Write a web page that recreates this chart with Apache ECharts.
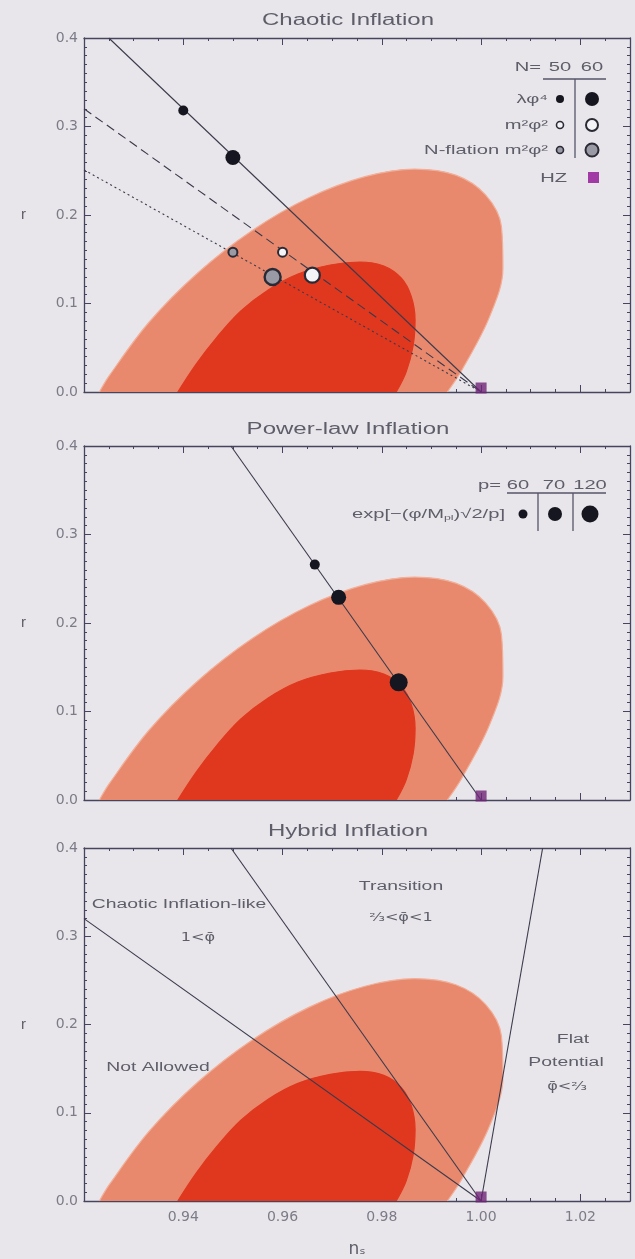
<!DOCTYPE html>
<html><head><meta charset="utf-8">
<script src="https://cdn.jsdelivr.net/npm/echarts@6/dist/echarts.min.js"></script>
<style>html,body{margin:0;padding:0;background:#e8e6ea}#c{width:635px;height:1259px}</style>
</head><body><div id="c"></div>
<script>
// ---------------- data ----------------
const panelTitles = ['Chaotic Inflation', 'Power-law Inflation', 'Hybrid Inflation'];
const yTickLabels = ['0.0', '0.1', '0.2', '0.3', '0.4'];
const xTickLabels = ['0.94', '0.96', '0.98', '1.00', '1.02'];
// 2-sigma (outer) and 1-sigma (inner) contours, [n_s, r], truncated at r = 0
const outerContour = [[0.9231,0.0000],[0.9252,0.0193],[0.9331,0.0788],[0.9429,0.1345],[0.9539,0.1825],[0.9654,0.2197],[0.9766,0.2433],[0.9866,0.2519],[0.9949,0.2450],[1.0009,0.2227],[1.0041,0.1869],[1.0044,0.1398],[1.0017,0.0849],[0.9962,0.0255],[0.9932,0.0000]];
const innerContour = [[0.9389,0.0000],[0.9426,0.0316],[0.9468,0.0621],[0.9516,0.0915],[0.9571,0.1153],[0.9631,0.1333],[0.9696,0.1435],[0.9756,0.1469],[0.9804,0.1424],[0.9839,0.1288],[0.9859,0.1085],[0.9867,0.0814],[0.9863,0.0520],[0.9849,0.0226],[0.9829,0.0000]];
// Chaotic inflation
const phi4Line = [[0.925,0.400],[1.000,0.000]];
const m2Line = [[0.920,0.320],[1.000,0.000]];
const nflationLine = [[0.920,0.251],[1.000,0.000]];
const phi4Points = [[0.940,0.318],[0.950,0.265]];       // N = 50, 60
const m2Points = [[0.960,0.158],[0.966,0.132]];
const nflationPoints = [[0.950,0.158],[0.958,0.130]];
const hzPoint = [[1.000,0.000]];
// Power-law inflation
const powerLawLine = [[0.9496,0.400],[1.000,0.000]];
const powerLawPoints = [[0.9665,0.266],[0.9713,0.229],[0.9834,0.133]]; // p = 60, 70, 120
// Hybrid inflation boundaries
const hybridLineA = [[0.920,0.320],[1.000,0.000]];
const hybridLineB = [[0.9496,0.400],[1.000,0.000]];
const hybridLineC = [[1.000,0.000],[1.0124,0.400]];

// ---------------- layout/style ----------------
const gridTops = [38, 446, 848];
const GH = 354, GL = 84, GW = 546;
const axisCol = '#46445e';
const lineCol = '#3a3a4c';
const textCol = '#5e5e6a';
const FONT = '"Liberation Sans", Arial, sans-serif';

function xAx(gi, pos) {
  const lab = pos === 'bottom' && gi === 2;
  return {
    type: 'value', gridIndex: gi, position: pos, min: 0.92, max: 1.03, interval: 0.02,
    axisLine: { show: true, onZero: false, lineStyle: { color: axisCol, width: 1.3 } },
    axisTick: { show: true, inside: true, length: 7, lineStyle: { color: axisCol } },
    minorTick: { show: true, splitNumber: 4, length: 3, lineStyle: { color: axisCol } },
    splitLine: { show: false },
    axisLabel: { show: lab, showMinLabel: false, showMaxLabel: false, margin: 9,
      formatter: v => { const s = v.toFixed(2); return xTickLabels.includes(s) ? s : ''; },
      color: '#7c7c88', fontSize: 14, fontFamily: 'DejaVu Sans' },
    name: lab ? 'nₛ' : '', nameLocation: 'middle', nameGap: 40,
    nameTextStyle: { fontSize: 17, color: textCol, fontFamily: 'DejaVu Sans' }
  };
}
function yAx(gi, pos) {
  const lab = pos === 'left';
  return {
    type: 'value', gridIndex: gi, position: pos, min: 0, max: 0.4, interval: 0.1,
    axisLine: { show: true, onZero: false, lineStyle: { color: axisCol, width: 1.3 } },
    axisTick: { show: true, inside: true, length: 7, lineStyle: { color: axisCol } },
    minorTick: { show: true, splitNumber: 10, length: 3, lineStyle: { color: axisCol } },
    splitLine: { show: false },
    axisLabel: { show: lab, margin: 6, formatter: v => yTickLabels[Math.round(v * 10)] || '',
      color: '#7c7c88', fontSize: 14, fontFamily: 'DejaVu Sans' },
    name: lab ? 'r' : '', nameLocation: 'middle', nameGap: 58, nameRotate: 0,
    nameTextStyle: { fontSize: 15, color: textCol, fontFamily: FONT }
  };
}

function contourSeries(points, fill, stroke, gi, z) {
  return {
    type: 'line', xAxisIndex: 2 * gi, yAxisIndex: 2 * gi, data: points, symbol: 'none', smooth: 0.35,
    clip: true, silent: true, z,
    lineStyle: { color: stroke, width: 1.2 },
    areaStyle: { color: fill, opacity: 1, origin: 'start' }
  };
}
function lineSeries(data, gi, type) {
  return { type: 'line', xAxisIndex: 2 * gi, yAxisIndex: 2 * gi, data, symbol: 'none', clip: true, z: 3,
    silent: true, lineStyle: { color: lineCol, width: 1.1, type: type || 'solid' } };
}
function dotSeries(pt, gi, size, fill, stroke, bw) {
  return { type: 'scatter', xAxisIndex: 2 * gi, yAxisIndex: 2 * gi, data: [pt], symbolSize: size, z: 5, silent: true,
    itemStyle: { color: fill, borderColor: stroke, borderWidth: bw || 0, opacity: 1 } };
}
function hzSeries(gi) {
  return { type: 'scatter', xAxisIndex: 2 * gi, yAxisIndex: 2 * gi, data: hzPoint, symbol: 'rect', symbolSize: 11,
    symbolOffset: [0, -4], z: 6, silent: true, itemStyle: { color: '#6e2477' } };
}

const series = [];
for (let g = 0; g < 3; g++) {
  series.push(contourSeries(outerContour, '#e8896d', '#f2ae98', g, 1));
  series.push(contourSeries(innerContour, '#e0381f', '#e0381f', g, 2));
}
series.push(lineSeries(phi4Line, 0), lineSeries(m2Line, 0, [9, 5]), lineSeries(nflationLine, 0, [2, 3]));
series.push(dotSeries(phi4Points[0], 0, 10, '#161620'), dotSeries(phi4Points[1], 0, 15, '#161620'));
series.push(dotSeries(m2Points[0], 0, 9, '#f4f4f6', '#2a2a36', 2), dotSeries(m2Points[1], 0, 15, '#f4f4f6', '#2a2a36', 2.2));
series.push(dotSeries(nflationPoints[0], 0, 9, '#9a9aa4', '#2a2a36', 2), dotSeries(nflationPoints[1], 0, 16, '#9a9aa4', '#2a2a36', 2.4));
series.push(hzSeries(0));
series.push(lineSeries(powerLawLine, 1));
series.push(dotSeries(powerLawPoints[0], 1, 10, '#161620'), dotSeries(powerLawPoints[1], 1, 15, '#161620'), dotSeries(powerLawPoints[2], 1, 18, '#161620'));
series.push(hzSeries(1));
series.push(lineSeries(hybridLineA, 2), lineSeries(hybridLineB, 2), lineSeries(hybridLineC, 2));
series.push(hzSeries(2));

// ---------------- annotation graphics ----------------
function T(x, y, text, size, align, sx, family) {
  return { type: 'text', x, y, scaleX: sx || 1.55, z: 100, silent: true,
    style: { text, fill: textCol, font: size + 'px ' + (family || FONT), align: align || 'center', verticalAlign: 'middle',
      textAlign: align || 'center', textVerticalAlign: 'middle' } };
}
function C(cx, cy, r, fill, stroke, lw) {
  return { type: 'circle', z: 100, silent: true, shape: { cx, cy, r }, style: { fill, stroke: stroke || 'none', lineWidth: lw || 0 } };
}
function L(x1, y1, x2, y2) {
  return { type: 'line', z: 100, silent: true, shape: { x1, y1, x2, y2 }, style: { stroke: '#55556a', lineWidth: 1.3 } };
}
const DJ = '"DejaVu Sans"';
const expLabel = T(505, 514, 'exp[−(φ/M{s|pl})√2/p]', 13, 'right', 1.55);
expLabel.style.rich = { s: { fontSize: 8, fill: textCol, padding: [7, 0, 0, 0], fontFamily: 'Liberation Sans' } };
const graphic = [
  T(348, 21, panelTitles[0], 16, 'center', 1.5), T(348, 430, panelTitles[1], 16, 'center', 1.5), T(348, 832, panelTitles[2], 16, 'center', 1.5),
  // panel 1 legend
  T(541, 67, 'N=', 13, 'right'), T(560, 67, '50', 13), T(592, 67, '60', 13),
  L(543, 79, 606, 79), L(575, 79, 575, 158),
  T(548, 99, 'λφ⁴', 13, 'right'), C(560, 99, 4, '#161620'), C(592, 99, 7, '#161620'),
  T(548, 125, 'm²φ²', 13, 'right'), C(560, 125, 3.5, '#f4f4f6', '#2a2a36', 1.6), C(592, 125, 6, '#f4f4f6', '#2a2a36', 2),
  T(548, 150, 'N-flation m²φ²', 13, 'right'), C(560, 150, 3.5, '#9a9aa4', '#2a2a36', 1.6), C(592, 150, 6.5, '#9a9aa4', '#2a2a36', 2),
  T(567, 178, 'HZ', 13, 'right'), { type: 'rect', z: 100, silent: true, shape: { x: 588, y: 172, width: 11, height: 11 }, style: { fill: '#a23aa6' } },
  // panel 2 legend
  T(501, 485, 'p=', 13, 'right'), T(518, 485, '60', 13), T(554, 485, '70', 13), T(590, 485, '120', 13),
  L(507, 493, 606, 493), L(538, 493, 538, 531), L(573, 493, 573, 531),
  expLabel,
  C(523, 514, 4.5, '#161620'), C(555, 514, 7, '#161620'), C(590, 514, 8.5, '#161620'),
  // panel 3 region labels
  T(179, 905, 'Chaotic Inflation-like', 12.5), T(198, 938, '1<φ̄', 11.5, 'center', 1.4, DJ),
  T(401, 887, 'Transition', 12.5), T(401, 918, '²⁄₃<φ̄<1', 11.5, 'center', 1.4, DJ),
  T(158, 1068, 'Not Allowed', 12.5),
  T(573, 1040, 'Flat', 12.5), T(566, 1063, 'Potential', 12.5), T(567, 1087, 'φ̄<²⁄₃', 11.5, 'center', 1.4, DJ)
];

const chart = echarts.init(document.getElementById('c'), null, { renderer: 'canvas' });
chart.setOption({
  backgroundColor: '#e8e6ea',
  animation: false,
  grid: gridTops.map(t => ({ left: GL, width: GW, top: t, height: GH, containLabel: false })),
  xAxis: [xAx(0, 'bottom'), xAx(0, 'top'), xAx(1, 'bottom'), xAx(1, 'top'), xAx(2, 'bottom'), xAx(2, 'top')],
  yAxis: [yAx(0, 'left'), yAx(0, 'right'), yAx(1, 'left'), yAx(1, 'right'), yAx(2, 'left'), yAx(2, 'right')],
  series,
  graphic
});
</script></body></html>
